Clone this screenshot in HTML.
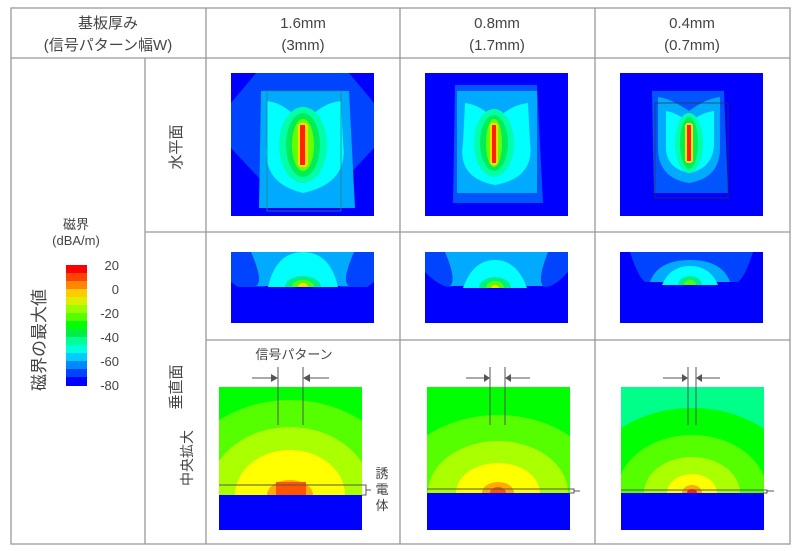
<!DOCTYPE html>
<html><head><meta charset="utf-8"><style>
html,body{margin:0;padding:0;width:801px;height:551px;overflow:hidden;background:#fff}
svg{display:block}
text{font-family:"Liberation Sans","Noto Sans CJK JP",sans-serif;fill:#444}
</style></head><body>
<svg width="801" height="551" viewBox="0 0 801 551" xmlns="http://www.w3.org/2000/svg">
<defs>
<clipPath id="c1"><rect x="0" y="0" width="143" height="143"/></clipPath>
<clipPath id="c2"><rect x="0" y="0" width="143" height="71"/></clipPath>
<clipPath id="c3"><rect x="0" y="0" width="143" height="143"/></clipPath>
</defs>
<rect width="801" height="551" fill="#fff"/>
<g stroke="#999" stroke-width="1.3" fill="none">
<rect x="11" y="8" width="779" height="536"/>
<line x1="11" y1="58" x2="790" y2="58"/>
<line x1="206" y1="8" x2="206" y2="544"/>
<line x1="400" y1="8" x2="400" y2="544"/>
<line x1="595" y1="8" x2="595" y2="544"/>
<line x1="145" y1="58" x2="145" y2="544"/>
<line x1="145" y1="232" x2="790" y2="232"/>
<line x1="206" y1="340" x2="790" y2="340"/>
</g>
<g font-size="15" text-anchor="middle">
<text x="108" y="28">基板厚み</text><text x="108" y="50">(信号パターン幅W)</text>
<text x="303" y="28">1.6mm</text><text x="303" y="50">(3mm)</text>
<text x="497" y="28">0.8mm</text><text x="497" y="50">(1.7mm)</text>
<text x="692" y="28">0.4mm</text><text x="692" y="50">(0.7mm)</text>
</g>
<g font-size="15" text-anchor="middle">
<text transform="translate(181,147) rotate(-90)">水平面</text>
<text transform="translate(181,387) rotate(-90)">垂直面</text>
<text transform="translate(192,458) rotate(-90)" font-size="14">中央拡大</text>
<text transform="translate(45,340) rotate(-90)" font-size="17">磁界の最大値</text>
<text x="76" y="229" font-size="13">磁界</text>
<text x="76" y="245" font-size="13">(dBA/m)</text>
</g>
<g>
<rect x="66" y="265" width="21" height="8" fill="#ff0000"/>
<rect x="66" y="273" width="21" height="8" fill="#ff4400"/>
<rect x="66" y="281" width="21" height="8" fill="#ff8800"/>
<rect x="66" y="289" width="21" height="8" fill="#ffcc00"/>
<rect x="66" y="297" width="21" height="8" fill="#ddee00"/>
<rect x="66" y="305" width="21" height="8" fill="#99ff00"/>
<rect x="66" y="313" width="21" height="8" fill="#55ff00"/>
<rect x="66" y="321" width="21" height="8" fill="#00ff00"/>
<rect x="66" y="329" width="21" height="8" fill="#00ee44"/>
<rect x="66" y="337" width="21" height="8" fill="#00ff99"/>
<rect x="66" y="345" width="21" height="8" fill="#00ffdd"/>
<rect x="66" y="353" width="21" height="8" fill="#00ccff"/>
<rect x="66" y="361" width="21" height="8" fill="#0088ff"/>
<rect x="66" y="369" width="21" height="8" fill="#0044ff"/>
<rect x="66" y="377" width="21" height="9" fill="#0000ff"/>
</g>
<g font-size="13" text-anchor="end">
<text x="119" y="270">20</text><text x="119" y="294">0</text><text x="119" y="318">-20</text>
<text x="119" y="342">-40</text><text x="119" y="366">-60</text><text x="119" y="390">-80</text>
</g>

<g transform="translate(231,73)" clip-path="url(#c1)">
<rect width="143" height="143" fill="#0000ff"/>
<path d="M25 0 H118 L143 30 V75 L115 105 H28 L0 75 V30 Z" fill="#0044ff"/>
<path d="M30 18 H118 L124 135 H28 Z" fill="#00aaff"/>
<path d="M36 28 Q55 30 72 52 Q89 30 110 28 L112 70 Q118 110 72 120 Q30 110 36 70 Z" fill="#00ffff"/>
<ellipse cx="72" cy="72" rx="24" ry="38" fill="#00ffaa"/>
<ellipse cx="72" cy="72" rx="17" ry="32" fill="#00ee55"/>
<ellipse cx="72" cy="72" rx="11" ry="26" fill="#66ff00"/>
<rect x="67" y="50" width="10" height="44" rx="4" fill="#ffdd00"/>
<rect x="69" y="52" width="5" height="40" fill="#ff2200"/>
<rect x="36" y="18" width="74" height="120" fill="none" stroke="#228888" stroke-width="0.8"/>
</g>
<g transform="translate(425,73)" clip-path="url(#c1)">
<rect width="143" height="143" fill="#0000ff"/>
<path d="M30 12 H112 L118 130 H28 Z" fill="#0055ff"/>
<path d="M32 18 H112 L112 120 H32 Z" fill="#00aaff"/>
<path d="M40 30 Q57 32 70 48 Q85 32 103 30 L105 70 Q110 105 70 112 Q32 105 38 70 Z" fill="#00ffff"/>
<ellipse cx="69" cy="70" rx="20" ry="34" fill="#00ffaa"/>
<ellipse cx="69" cy="70" rx="14" ry="28" fill="#00ee55"/>
<ellipse cx="69" cy="70" rx="8" ry="24" fill="#66ff00"/>
<rect x="65" y="50" width="8" height="42" rx="3" fill="#ffdd00"/>
<rect x="67" y="52" width="4" height="38" fill="#ff2200"/>
</g>
<g transform="translate(620,73)" clip-path="url(#c1)">
<rect width="143" height="143" fill="#0000ff"/>
<path d="M32 18 H104 L108 120 H34 Z" fill="#0055ff"/>
<path d="M38 24 Q52 26 69 38 Q85 26 100 24 L100 75 Q100 105 69 110 Q38 105 38 75 Z" fill="#00aaff"/>
<path d="M46 38 Q58 40 69 50 Q80 40 94 38 L94 70 Q94 95 69 100 Q44 95 46 70 Z" fill="#00ffff"/>
<ellipse cx="69" cy="70" rx="14" ry="30" fill="#00ffaa"/>
<ellipse cx="69" cy="70" rx="9" ry="26" fill="#00ee55"/>
<rect x="65" y="50" width="8" height="40" rx="3" fill="#ffdd00"/>
<rect x="67" y="52" width="4" height="36" fill="#ff2200"/>
<rect x="35" y="30" width="73" height="95" fill="none" stroke="#333" stroke-width="0.7"/>
</g>

<g transform="translate(231,252)" clip-path="url(#c2)">
<rect width="143" height="71" fill="#0000ff"/>
<path d="M0 0 H143 V30 Q118 50 108 33 H35 Q25 50 0 30 Z" fill="#0044ff"/>
<path d="M20 0 H123 Q110 30 118 34 H25 Q33 30 20 0 Z" fill="#00aaff"/>
<path d="M37 35 Q45 0 72 0 Q99 0 107 35 Z" fill="#00ffff"/>
<ellipse cx="72" cy="35" rx="18" ry="11" fill="#00ee88"/>
<ellipse cx="72" cy="35" rx="11" ry="7" fill="#55ff00"/>
<ellipse cx="72" cy="35" rx="5" ry="4" fill="#ffdd00"/>
<rect x="0" y="35" width="143" height="36" fill="#0000ff"/>
</g>
<g transform="translate(425,252)" clip-path="url(#c2)">
<rect width="143" height="71" fill="#0000ff"/>
<path d="M0 0 H143 V20 Q125 40 115 33 H30 Q20 40 0 20 Z" fill="#0044ff"/>
<path d="M20 0 H123 Q112 28 118 34 H25 Q32 28 20 0 Z" fill="#00aaff"/>
<path d="M38 36 Q48 8 70 8 Q92 8 102 36 Z" fill="#00ffff"/>
<ellipse cx="70" cy="36" rx="16" ry="11" fill="#00ee88"/>
<ellipse cx="70" cy="36" rx="9" ry="7" fill="#55ff00"/>
<ellipse cx="70" cy="36" rx="4" ry="3" fill="#ffdd00"/>
<rect x="0" y="36" width="143" height="35" fill="#0000ff"/>
</g>
<g transform="translate(620,252)" clip-path="url(#c2)">
<rect width="143" height="71" fill="#0000ff"/>
<path d="M10 0 H133 Q125 25 118 30 H25 Q18 25 10 0 Z" fill="#0044ff"/>
<path d="M30 30 Q38 8 70 8 Q102 8 110 30 Z" fill="#00aaff"/>
<path d="M42 33 Q50 14 70 14 Q90 14 98 33 Z" fill="#00ffff"/>
<ellipse cx="70" cy="33" rx="12" ry="9" fill="#00ee88"/>
<ellipse cx="70" cy="33" rx="6" ry="5" fill="#55ff00"/>
<rect x="0" y="33" width="143" height="38" fill="#0000ff"/>
</g>

<g transform="translate(219,387)" clip-path="url(#c3)">
<rect width="143" height="143" fill="#00ff00"/>
<ellipse cx="71" cy="108" rx="115" ry="95" fill="#55ff00"/>
<ellipse cx="71" cy="108" rx="82" ry="68" fill="#aaff00"/>
<ellipse cx="71" cy="108" rx="55" ry="45" fill="#ffff00"/>
<ellipse cx="71" cy="108" rx="23" ry="15" fill="#ffaa00"/>
<rect x="57" y="95" width="30" height="13" fill="#ff5500"/>
<rect x="0" y="108" width="143" height="35" fill="#0000ff"/>
</g>
<g transform="translate(427,387)" clip-path="url(#c3)">
<rect width="143" height="143" fill="#00ff00"/>
<ellipse cx="71" cy="106" rx="105" ry="78" fill="#55ff00"/>
<ellipse cx="71" cy="106" rx="70" ry="52" fill="#aaff00"/>
<ellipse cx="71" cy="106" rx="42" ry="30" fill="#ffff00"/>
<ellipse cx="71" cy="106" rx="16" ry="11" fill="#ffaa00"/>
<ellipse cx="71" cy="106" rx="8" ry="6" fill="#ff5500"/>
<rect x="0" y="106" width="143" height="37" fill="#0000ff"/>
</g>
<g transform="translate(621,387)" clip-path="url(#c3)">
<rect width="143" height="143" fill="#00ff88"/>
<ellipse cx="71" cy="106" rx="110" ry="85" fill="#00ff00"/>
<ellipse cx="71" cy="106" rx="75" ry="58" fill="#55ff00"/>
<ellipse cx="71" cy="106" rx="48" ry="36" fill="#aaff00"/>
<ellipse cx="71" cy="106" rx="25" ry="19" fill="#ffff00"/>
<ellipse cx="71" cy="106" rx="10" ry="8" fill="#ffaa00"/>
<ellipse cx="71" cy="106" rx="5" ry="4" fill="#ff2200"/>
<rect x="0" y="106" width="143" height="37" fill="#0000ff"/>
</g>

<g stroke="#555" stroke-width="1" fill="none">
<line x1="278" y1="367" x2="278" y2="425"/><line x1="303" y1="367" x2="303" y2="425"/>
<line x1="252" y1="378" x2="272" y2="378"/><line x1="310" y1="378" x2="329" y2="378"/>
<line x1="219" y1="485" x2="366" y2="485"/>
<path d="M362 485 H366 V495 H362 M366 490 H371"/>
<line x1="490" y1="367" x2="490" y2="425"/><line x1="505" y1="367" x2="505" y2="425"/>
<line x1="466" y1="378" x2="485" y2="378"/><line x1="511" y1="378" x2="530" y2="378"/>
<line x1="427" y1="489" x2="574" y2="489"/>
<path d="M570 489 H574 V493 H570 M574 491 H580"/>
<line x1="688" y1="367" x2="688" y2="425"/><line x1="696" y1="367" x2="696" y2="425"/>
<line x1="663" y1="378" x2="683" y2="378"/><line x1="701" y1="378" x2="720" y2="378"/>
<line x1="621" y1="490" x2="767" y2="490"/>
<path d="M763 490 H767 V493 H763 M767 491 H774"/>
</g>
<g fill="#555">
<path d="M278 378 l-7 -4 v8 z"/><path d="M303 378 l7 -4 v8 z"/>
<path d="M490 378 l-6 -4 v8 z"/><path d="M505 378 l6 -4 v8 z"/>
<path d="M688 378 l-6 -4 v8 z"/><path d="M696 378 l6 -4 v8 z"/>
</g>
<text x="294" y="359" font-size="13" text-anchor="middle">信号パターン</text>
<g font-size="13" text-anchor="middle">
<text x="382" y="478">誘</text><text x="382" y="494">電</text><text x="382" y="510">体</text>
</g>
</svg>
</body></html>
